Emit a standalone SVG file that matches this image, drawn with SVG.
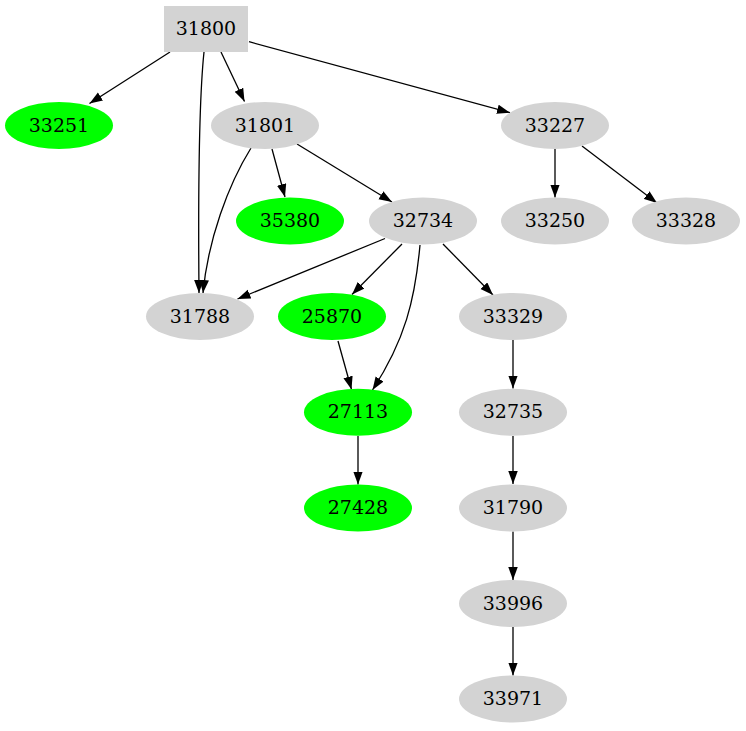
<svg xmlns="http://www.w3.org/2000/svg" width="746" height="731" viewBox="0 0 746 731">
<style>
.g{fill:#d3d3d3;stroke:none}
.n{fill:#00ff00;stroke:none}
text{font-family:"DejaVu Serif",serif;font-size:19px;fill:#000;text-anchor:middle}
.e path{fill:none;stroke:#000;stroke-width:1.3;marker-end:url(#ah)}
</style>
<defs>
<marker id="ah" markerUnits="userSpaceOnUse" markerWidth="14" markerHeight="10" refX="13" refY="4.75" orient="auto">
<polygon points="0,0 13,4.75 0,9.5" fill="#000"/>
</marker>
</defs>
<rect width="746" height="731" fill="#fff"/>
<g class="e" id="edges">
<path d="M170,52 L89.5,103.5"/>
<path d="M204,52 C199,100 198,180 199,293"/>
<path d="M221,52 L244.5,101.5"/>
<path d="M249,41.7 L510,112.7"/>
<path d="M251,148 C228,185 208,240 203,293"/>
<path d="M272,149 L285,197"/>
<path d="M297,144 L392,202"/>
<path d="M555,149 L555,197.5"/>
<path d="M582,146 L657,203"/>
<path d="M385,238.5 L237.5,299"/>
<path d="M402,244 L352,294.5"/>
<path d="M420,245 C415,300 405,340 372.5,390"/>
<path d="M443,244 L493,295"/>
<path d="M338,341 L351.5,389.5"/>
<path d="M358,436 L358,484.5"/>
<path d="M513,340 L513,388.5"/>
<path d="M513,436 L513,484"/>
<path d="M513,531.5 L513,580"/>
<path d="M513,627 L513,675.5"/>
</g>
<g id="n31800"><rect class="g" x="164" y="6" width="84" height="46"/><text x="206" y="34.5">31800</text></g>
<g id="n33251"><ellipse class="n" cx="59" cy="125.5" rx="54" ry="23.5"/><text x="59" y="131.5">33251</text></g>
<g id="n31801"><ellipse class="g" cx="265" cy="125.5" rx="54" ry="23.5"/><text x="265" y="131.5">31801</text></g>
<g id="n33227"><ellipse class="g" cx="555" cy="125.5" rx="54" ry="23.5"/><text x="555" y="131.5">33227</text></g>
<g id="n35380"><ellipse class="n" cx="290" cy="221" rx="54" ry="23.5"/><text x="290" y="227">35380</text></g>
<g id="n32734"><ellipse class="g" cx="423" cy="221" rx="54" ry="23.5"/><text x="423" y="227">32734</text></g>
<g id="n33250"><ellipse class="g" cx="555" cy="221" rx="54" ry="23.5"/><text x="555" y="227">33250</text></g>
<g id="n33328"><ellipse class="g" cx="686" cy="221" rx="54" ry="23.5"/><text x="686" y="227">33328</text></g>
<g id="n31788"><ellipse class="g" cx="200" cy="316.5" rx="54" ry="23.5"/><text x="200" y="322.5">31788</text></g>
<g id="n25870"><ellipse class="n" cx="332" cy="316.5" rx="54" ry="23.5"/><text x="332" y="322.5">25870</text></g>
<g id="n33329"><ellipse class="g" cx="513" cy="316.5" rx="54" ry="23.5"/><text x="513" y="322.5">33329</text></g>
<g id="n27113"><ellipse class="n" cx="358" cy="412.3" rx="54" ry="23.5"/><text x="358" y="418.3">27113</text></g>
<g id="n32735"><ellipse class="g" cx="513" cy="412.3" rx="54" ry="23.5"/><text x="513" y="418.3">32735</text></g>
<g id="n27428"><ellipse class="n" cx="358" cy="508" rx="54" ry="23.5"/><text x="358" y="514">27428</text></g>
<g id="n31790"><ellipse class="g" cx="513" cy="508" rx="54" ry="23.5"/><text x="513" y="514">31790</text></g>
<g id="n33996"><ellipse class="g" cx="513" cy="603.5" rx="54" ry="23.5"/><text x="513" y="609.5">33996</text></g>
<g id="n33971"><ellipse class="g" cx="513" cy="699" rx="54" ry="23.5"/><text x="513" y="705">33971</text></g>
</svg>
